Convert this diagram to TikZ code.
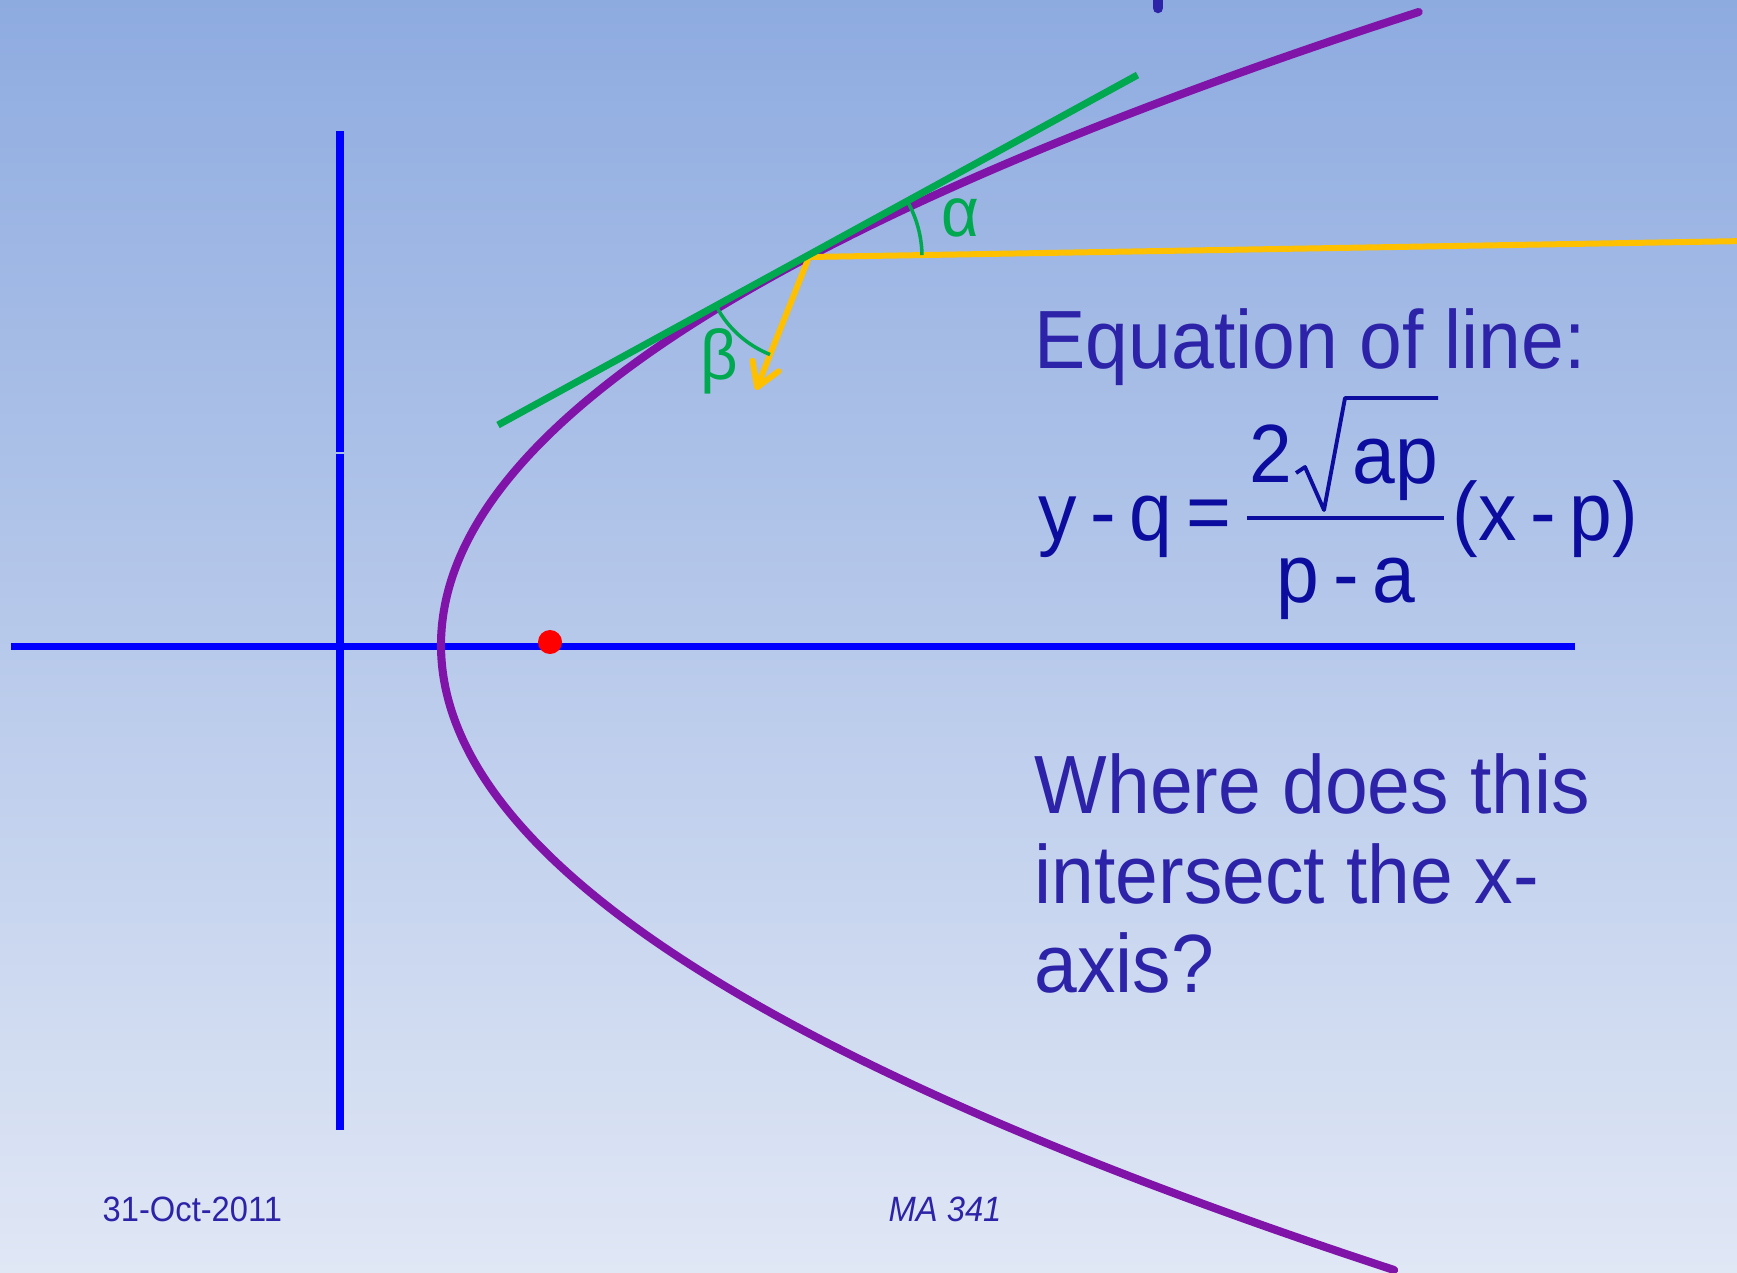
\documentclass[tikz,border=0pt]{standalone}
\usepackage{fontspec}
\usetikzlibrary{arrows.meta}
\newfontfamily\slidefont[FakeStretch=0.93]{Liberation Sans}
\definecolor{bgtop}{RGB}{142,171,224}
\definecolor{bgbottom}{RGB}{224,231,245}
\definecolor{axisblue}{RGB}{0,0,255}
\definecolor{curvepurple}{RGB}{128,20,168}
\definecolor{tangentgreen}{RGB}{0,168,80}
\definecolor{rayyellow}{RGB}{255,192,0}
\definecolor{focusred}{RGB}{255,0,0}
\definecolor{textblue}{RGB}{45,35,168}
\definecolor{eqblue}{RGB}{12,12,158}
\tikzset{
  pbaxis/.style={draw=axisblue, line width=2pt},
  pbcurve/.style={draw=curvepurple, line width=2.3pt, line cap=round},
  pbtangent/.style={draw=tangentgreen, line width=2pt},
  pbray/.style={draw=rayyellow, line width=1.7pt, line cap=round,
                line join=round},
  pbangle/.style={draw=tangentgreen, line width=1pt},
  pbfocus/.style={circle, fill=focusred, minimum size=0.24cm,
                  inner sep=0pt},
  pblabel/.style={text=tangentgreen, inner sep=0pt,
                  font=\slidefont\fontsize{20}{20}\selectfont},
  pbtext/.style={text=textblue, inner sep=0pt, anchor=base west,
                 font=\slidefont\fontsize{23.5}{25}\selectfont},
  pbeq/.style={text=eqblue, inner sep=0pt,
               font=\slidefont\fontsize{23.5}{25}\selectfont},
  pbeqline/.style={draw=eqblue, line width=1.1pt, line join=round},
  pbfoot/.style={text=textblue, inner sep=0pt, anchor=base west,
                 font=\slidefont\fontsize{10}{12}\selectfont}
}

\begin{document}
\begin{tikzpicture}[
    x=0.01cm, y=-0.01cm
]
  \useasboundingbox (0,0) rectangle (1737,1272);
  \shade[top color=bgtop, bottom color=bgbottom] (0,0) rectangle (1737,1272);
  \draw[line width=3pt, textblue, line cap=round] (1158,-6) -- (1158,8);
  % axes, the vertical one drawn in two pieces
  \foreach \ya/\yb in {131/452, 454/1130} {
    \draw[pbaxis] (340,\ya) -- (340,\yb);
  }
  \draw[pbaxis] (11,646) -- (1575,646);
  \draw[pbcurve] plot[domain=-6.33:6.25, samples=120, smooth]
    ({441+24.4*\x*\x}, {645+100*\x});
  \node[pbfocus] (focus) at (550,642) {};
  \coordinate (P) at (809,257);
  \coordinate (rayin) at (1745,241);
  \coordinate (tip) at (756,390);
  \coordinate (tanA) at (498,425);
  \coordinate (tanB) at (1137.5,75);
  \draw[pbray, -{Straight Barb[length=6.5pt, width=8pt, round]}]
    (rayin) -- (P) -- (tip);
  \draw[pbtangent] (tanA) -- (tanB);
  \draw[pbangle] (P) ++(-1:113) arc[start angle=-1, end angle=-28.7, radius=113];
  \draw[pbangle] (P) ++(-208.7:105) arc[start angle=-208.7, end angle=-248.2, radius=105];
  \node[pblabel] (alpha) at (960,218) {α};
  \node[pblabel] (beta) at (719,361) {β};
  \node[pbtext] (title) at (1034,368) {Equation of line:};
  \node[pbeq, anchor=base east] (lhs) at (1232,540) {y\,-\,q\,=};
  \node[pbeq, anchor=base] (num) at (1271,482) {2};
  \node[pbeq, anchor=base west] (root) at (1352,483) {ap};
  \draw[pbeqline] (1296,473) -- (1305,467) -- (1324,510) -- (1345,398) -- (1438,398);
  \draw[pbeqline] (1247,518) -- (1444,518);
  \node[pbeq, anchor=base] (den) at (1346,602) {p\,-\,a};
  \node[pbeq, anchor=base west] (rhs) at (1452,540) {(x\,-\,p)};
  \foreach \line/\yb [count=\i] in {Where does this/813, intersect the x-/903, axis?/992} {
    \node[pbtext] (question\i) at (1034,\yb) {\line};
  }
  \node[pbfoot] (date) at (102,1221) {31-Oct-2011};
  \node[pbfoot, font=\slidefont\itshape\fontsize{10}{12}\selectfont] (course) at (888,1221) {MA 341};
\end{tikzpicture}
\end{document}
